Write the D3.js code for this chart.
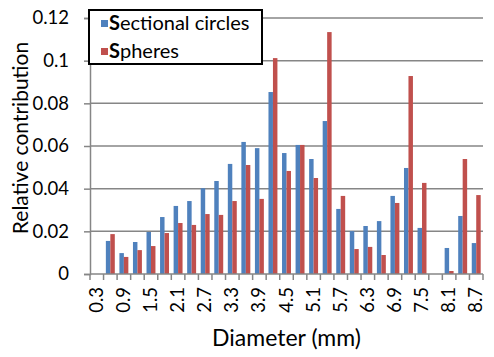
<!DOCTYPE html>
<html>
<head>
<meta charset="utf-8">
<script src="https://cdn.jsdelivr.net/npm/d3@7"></script>
<style>
  body { margin: 0; background: #fff; }
  svg text { font-family: Lato, "Open Sans", sans-serif; fill: #000; }
</style>
</head>
<body>
<div id="chart"></div>
<script>
// diameters in mm (every other one gets a label)
const diameters = ["0.3", "0.6", "0.9", "1.2", "1.5", "1.8", "2.1", "2.4", "2.7", "3.0",
    "3.3", "3.6", "3.9", "4.2", "4.5", "4.8", "5.1", "5.4", "5.7", "6.0",
    "6.3", "6.6", "6.9", "7.2", "7.5", "7.8", "8.1", "8.4", "8.7"];
const tickLabels = ["0.3", "0.9", "1.5", "2.1", "2.7", "3.3", "3.9", "4.5", "5.1", "5.7",
    "6.3", "6.9", "7.5", "8.1", "8.7"];
const sectional = [0, 0.0155, 0.0098, 0.015, 0.0197, 0.0267, 0.0319, 0.0342, 0.0402, 0.0436,
    0.0516, 0.0619, 0.059, 0.0853, 0.0567, 0.0605, 0.0539, 0.0717, 0.0305, 0.0201,
    0.0225, 0.0248, 0.0366, 0.0497, 0.0216, 0, 0.0122, 0.0272, 0.0145];
const spheres = [0, 0.0187, 0.008, 0.0112, 0.0131, 0.0192, 0.0239, 0.023, 0.0281, 0.0277,
    0.0342, 0.0511, 0.0352, 0.1012, 0.0483, 0.0605, 0.045, 0.1134, 0.0366, 0.0117,
    0.0127, 0.0089, 0.0333, 0.0928, 0.0427, 0, 0.0014, 0.0539, 0.037];
const seriesNames = ["Sectional circles", "Spheres"];
const colors = ["#4F81BD", "#C0504D"];
const yTicks = [0, 0.02, 0.04, 0.06, 0.08, 0.1, 0.12];

const width = 494;
const height = 357;
const margin = { top: 18, right: 11, bottom: 83, left: 90 };

const svg = d3.select("#chart")
    .append("svg")
    .attr("width", width)
    .attr("height", height);

const x = d3.scaleBand()
    .domain(diameters)
    .range([margin.left, width - margin.right])
    .paddingInner(0.34)
    .paddingOuter(0.17);

const xs = d3.scaleBand()
    .domain([0, 1])
    .range([0, x.bandwidth()]);

const y = d3.scaleLinear()
    .domain([0, 0.12])
    .range([height - margin.bottom, margin.top]);

const grid = "#868686";

// gridlines
svg.append("g")
    .selectAll("line")
    .data(yTicks.slice(1))
    .enter().append("line")
    .attr("x1", margin.left)
    .attr("x2", width - margin.right)
    .attr("y1", d => y(d))
    .attr("y2", d => y(d))
    .attr("stroke", grid)
    .attr("stroke-width", 1.5);

// y axis
const yAxis = svg.append("g")
    .attr("transform", `translate(${margin.left},0)`)
    .call(d3.axisLeft(y).tickValues(yTicks).tickFormat(d => d3.format("")(+d.toFixed(2))).tickSize(6).tickPadding(15));
yAxis.select(".domain").attr("stroke", grid).attr("stroke-width", 1.5);
yAxis.selectAll(".tick line").attr("stroke", grid).attr("stroke-width", 1.5);
yAxis.selectAll("text").attr("font-size", 18.5).attr("fill", "#000");

// bars
const rows = diameters.map((d, i) => ({ d, vals: [sectional[i], spheres[i]] }));
svg.append("g")
    .selectAll("g")
    .data(rows)
    .enter().append("g")
    .attr("transform", r => `translate(${x(r.d)},0)`)
    .selectAll("rect")
    .data(r => r.vals.map((v, k) => ({ v, k })))
    .enter().append("rect")
    .attr("x", b => xs(b.k))
    .attr("y", b => y(b.v))
    .attr("width", xs.bandwidth())
    .attr("height", b => y(0) - y(b.v))
    .attr("fill", b => colors[b.k]);

// x axis
const step = x.step();
const x0 = margin.left;
const xAxis = svg.append("g")
    .attr("transform", `translate(0,${height - margin.bottom})`);
xAxis.append("line")
    .attr("x1", x0).attr("x2", width - margin.right)
    .attr("stroke", grid).attr("stroke-width", 1.5);
xAxis.selectAll(".tk")
    .data(d3.range(diameters.length + 1))
    .enter().append("line")
    .attr("class", "tk")
    .attr("x1", i => x0 + i * step)
    .attr("x2", i => x0 + i * step)
    .attr("y1", 0).attr("y2", 6)
    .attr("stroke", grid).attr("stroke-width", 1.5);
xAxis.selectAll("text")
    .data(tickLabels)
    .enter().append("text")
    .attr("transform", d => `translate(${x(d) + x.bandwidth() / 2 + 6},${13}) rotate(-90)`)
    .attr("text-anchor", "end")
    .attr("font-size", 18.5)
    .text(d => d);

// axis titles
svg.append("text")
    .attr("x", (margin.left + width - margin.right) / 2)
    .attr("y", 346)
    .attr("text-anchor", "middle")
    .attr("font-size", 23)
    .text("Diameter (mm)");

svg.append("text")
    .attr("transform", `translate(28,${(margin.top + height - margin.bottom) / 2 - 8}) rotate(-90)`)
    .attr("text-anchor", "middle")
    .attr("font-size", 21)
    .text("Relative contribution");

// legend
const legend = svg.append("g");
legend.append("rect")
    .attr("x", 89).attr("y", 10)
    .attr("width", 173).attr("height", 54)
    .attr("fill", "#fff")
    .attr("stroke", "#000")
    .attr("stroke-width", 2);
seriesNames.forEach((name, i) => {
    legend.append("rect")
        .attr("x", 101).attr("y", 20 + i * 28)
        .attr("width", 7).attr("height", 7)
        .attr("fill", colors[i]);
    const t = legend.append("text")
        .attr("x", 109).attr("y", 30 + i * 28)
        .attr("font-size", 20);
    t.append("tspan").attr("font-weight", "bold").text(name[0]);
    t.append("tspan").text(name.slice(1));
});
</script>
</body>
</html>
